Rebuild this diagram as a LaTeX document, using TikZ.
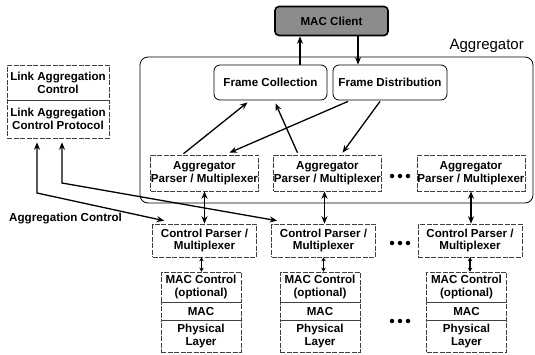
\documentclass[tikz,border=0pt]{standalone}
\usepackage{fontspec}
\setmainfont{Liberation Sans}
\usetikzlibrary{arrows.meta}
\begin{document}
\begin{tikzpicture}[x=1pt,y=-1pt,
  lbl/.style={font=\fontsize{11.6}{12.8}\selectfont\bfseries, align=center, inner sep=0pt},
  dbox/.style={lbl, draw=black!75, line width=0.6pt, dash pattern=on 5pt off 1.5pt},
  rbox/.style={lbl, draw, rounded corners=6pt, line width=0.8pt, minimum height=35pt},
  apbox/.style={dbox, minimum width=108pt, minimum height=36pt},
  cpbox/.style={dbox, minimum width=104pt, minimum height=33pt},
  stk/.style={dbox, minimum width=80pt},
  arr/.style={line width=1.3pt, -{Stealth[length=7.5pt,width=6pt]}},
  darr/.style={line width=1.3pt, {Stealth[length=7.5pt,width=6pt]}-{Stealth[length=7.5pt,width=6pt]}},
  sarr/.style={line width=1.1pt, {Stealth[length=4pt,width=4.5pt]}-{Stealth[length=4pt,width=4.5pt]}},
  dotn/.style={circle, fill, inner sep=0pt, minimum size=4.5pt}
]
\useasboundingbox (0,0) rectangle (535,354);
% aggregator container
\node[draw, rounded corners=8pt, line width=0.8pt, minimum width=393pt, minimum height=146pt] (agg) at (336.5,130) {};
\node[anchor=east, font=\fontsize{15}{17}\selectfont, inner sep=0pt] (agglbl) at (524,46) {Aggregator};
% MAC client
\node[lbl, draw, line width=1.6pt, rounded corners=4pt, fill=black!45, minimum width=113pt, minimum height=29pt] (mc) at (331.5,21) {MAC Client};
% frame boxes
\node[rbox, minimum width=113pt] (fc) at (270.5,82.5) {Frame Collection};
\node[rbox, minimum width=114pt] (fd) at (390,82.5) {Frame Distribution};
% link aggregation control
\node[dbox, minimum width=102pt, minimum height=35pt] (lac) at (58,82.5) {Link Aggregation\\Control};
\node[dbox, minimum width=102pt, minimum height=38pt] (lacp) at (58,119) {Link Aggregation\\Control Protocol};
% aggregator parsers
\node[apbox] (ap1) at (204.5,173) {Aggregator\\Parser / Multiplexer};
\node[apbox] (ap2) at (327.5,173) {Aggregator\\Parser / Multiplexer};
\node[apbox] (ap3) at (471,173) {Aggregator\\Parser / Multiplexer};
% control parsers
\node[cpbox] (cp1) at (204.5,240.5) {Control Parser /\\Multiplexer};
\node[cpbox] (cp2) at (323.5,240.5) {Control Parser /\\Multiplexer};
\node[cpbox] (cp3) at (470,240.5) {Control Parser /\\Multiplexer};
% stacks
\foreach \i/\x in {1/201,2/320,3/466.5}{
  \node[stk, minimum height=30pt] (mcc\i) at (\x,287) {MAC Control\\(optional)};
  \node[stk, minimum height=18pt] (mac\i) at (\x,311) {MAC};
  \node[stk, minimum height=32pt] (phy\i) at (\x,336) {Physical\\Layer};
}
% dots
\foreach \y [count=\r] in {176,243,321}{
  \node[dotn] (d\r a) at (392,\y) {};
  \node[dotn] (d\r b) at (400,\y) {};
  \node[dotn] (d\r c) at (408,\y) {};
}
% label
\node[lbl, anchor=west] (aclbl) at (9,219) {Aggregation Control};
% MAC client arrows
\coordinate (u) at (300,0);
\coordinate (dn) at (358,0);
\draw[arr] (fc.north -| u) -- (mc.south -| u);
\draw[arr] (mc.south -| dn) -- (fd.north -| dn);
% frame arrows
\draw[arr] ([xshift=-21pt,yshift=1pt]ap1.north) -- ([xshift=-23pt,yshift=-2pt]fc.south);
\draw[arr] ([xshift=-42pt,yshift=-1pt]fd.south) -- ([xshift=25pt,yshift=2pt]ap1.north);
\draw[arr] ([xshift=-30pt,yshift=2pt]ap2.north) -- ([xshift=5pt,yshift=-3pt]fc.south);
\draw[arr] ([xshift=-10pt,yshift=-1pt]fd.south) -- ([xshift=15pt,yshift=2pt]ap2.north);
% parser to control parser
\draw[darr] (ap1.south) -- (ap1.south |- cp1.north);
\draw[darr] ([xshift=-3pt]ap2.south) -- ([xshift=-3pt]ap2.south |- cp2.north);
\draw[darr] (ap3.south) -- (ap3.south |- cp3.north);
% control parser to mac control
\draw[sarr] ([xshift=-3pt]cp1.south) -- ([xshift=-3pt]cp1.south |- mcc1.north);
\draw[sarr] (cp2.south) -- (cp2.south |- mcc2.north);
\draw[sarr] (cp3.south) -- (cp3.south |- mcc3.north);
% aggregation control arrows
\coordinate (b1) at (37,193);
\coordinate (b2) at (62,183);
\draw[darr] ([yshift=-4pt]lacp.south -| b1) -- (b1) -- ([xshift=12pt,yshift=3pt]cp1.north west);
\draw[darr] ([yshift=-4pt]lacp.south -| b2) -- (b2) -- ([xshift=6pt,yshift=3pt]cp2.north west);
\end{tikzpicture}
\end{document}
